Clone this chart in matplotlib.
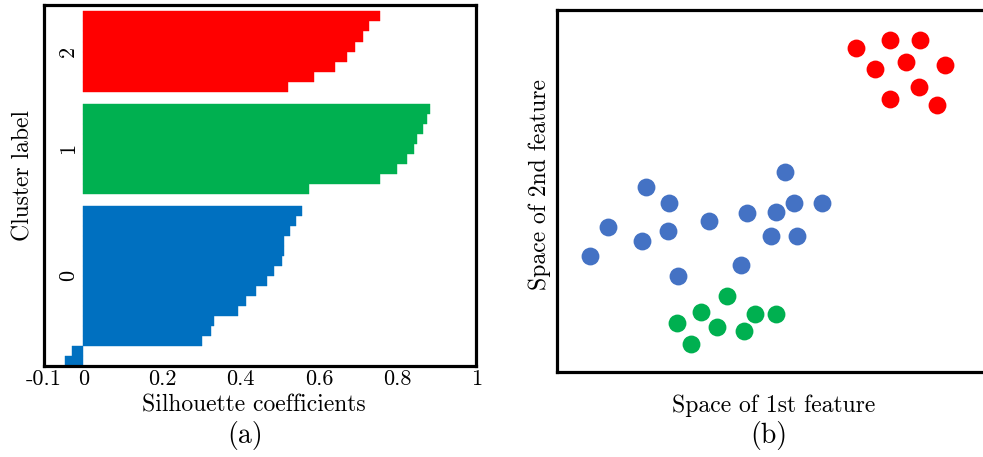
import numpy as np
import matplotlib.pyplot as plt

plt.rcParams['font.family'] = ['cmr10', 'DejaVu Serif']
plt.rcParams['axes.formatter.use_mathtext'] = True

# silhouette values per cluster
sil_cluster0 = [0.556, 0.541, 0.527, 0.511, 0.511, 0.505, 0.486, 0.467,
                0.439, 0.415, 0.394, 0.333, 0.324, 0.301, -0.029, -0.047]
sil_cluster1 = [0.882, 0.874, 0.864, 0.848, 0.841, 0.824, 0.799, 0.755, 0.574]
sil_cluster2 = [0.755, 0.727, 0.712, 0.691, 0.671, 0.640, 0.587, 0.521]
cluster_names = ['0', '1', '2']
bar_colors = ['#0070C0', '#00B050', '#FF0000']

xtick_vals = [-0.1, 0, 0.2, 0.4, 0.6, 0.8, 1]
xtick_text = ['-0.1', '0', '0.2', '0.4', '0.6', '0.8', '1']

# 2-D samples in feature space
red_x = [6.91, 7.68, 8.39, 7.34, 8.05, 8.96, 8.36, 7.70, 8.77]
red_y = [8.94, 9.17, 9.17, 8.37, 8.57, 8.47, 7.86, 7.55, 7.37]
blue_x = [5.26, 2.06, 2.59, 5.47, 6.12, 4.40, 5.05, 3.50,
          1.19, 2.56, 1.96, 4.95, 5.54, 0.76, 4.26, 2.79]
blue_y = [5.53, 5.11, 4.68, 4.68, 4.68, 4.38, 4.42, 4.18,
          4.01, 3.90, 3.61, 3.76, 3.76, 3.20, 2.96, 2.66]
green_x = [2.78, 3.33, 3.92, 3.70, 4.58, 5.05, 4.33, 3.10]
green_y = [1.35, 1.66, 2.09, 1.25, 1.61, 1.60, 1.12, 0.78]

label_fs = 17
tick_fs = 16
panel_fs = 20

fig = plt.figure(figsize=(9.83, 4.57), dpi=100)
ax1 = fig.add_axes([0.0448, 0.1998, 0.4398, 0.7882])
ax2 = fig.add_axes([0.5666, 0.186, 0.4405, 0.7921])

# (a) silhouette plot
gap = 1.2
y_lower = 0.0
for vals, name, col in zip([sil_cluster0, sil_cluster1, sil_cluster2],
                           cluster_names, bar_colors):
    vals = np.sort(np.array(vals))
    ys = y_lower + np.arange(len(vals)) + 0.5
    ax1.barh(ys, vals, height=1.0, color=col, edgecolor=col, linewidth=0.3)
    pos = ys[vals >= 0]
    ax1.text(-0.039, pos.mean(), name, rotation=90, ha='center', va='center',
             fontsize=tick_fs)
    y_lower += len(vals) + gap

ax1.set_xlim(-0.1, 1)
ax1.set_ylim(0, 36)
ax1.set_xticks(xtick_vals)
ax1.set_xticklabels(xtick_text, fontsize=tick_fs)
ax1.set_yticks([])
ax1.tick_params(axis='x', length=0, pad=3)
ax1.set_xlabel('Silhouette coefficients', fontsize=label_fs)
ax1.xaxis.set_label_coords(0.486, -0.109)
ax1.xaxis.label.set_va('center')
ax1.set_ylabel('Cluster label', fontsize=label_fs)
ax1.yaxis.set_label_coords(-0.0486, 0.528)
ax1.yaxis.label.set_ha('center')
ax1.yaxis.label.set_va('center')

# (b) samples in feature space
dot_size = 165
ax2.scatter(red_x, red_y, s=dot_size, color='#FF0000', linewidths=0)
ax2.scatter(blue_x, blue_y, s=dot_size, color='#4472C4', linewidths=0)
ax2.scatter(green_x, green_y, s=dot_size, color='#00B050', linewidths=0)
ax2.set_xlim(0, 10)
ax2.set_ylim(0, 10)
ax2.set_xticks([])
ax2.set_yticks([])
ax2.set_xlabel('Space of 1st feature', fontsize=label_fs)
ax2.xaxis.set_label_coords(0.501, -0.093)
ax2.xaxis.label.set_va('center')
ax2.set_ylabel('Space of 2nd feature', fontsize=label_fs)
ax2.yaxis.set_label_coords(-0.039, 0.519)
ax2.yaxis.label.set_ha('center')
ax2.yaxis.label.set_va('center')

for ax in (ax1, ax2):
    for sp in ax.spines.values():
        sp.set_linewidth(2.3)

fig.text(245 / 983, 1 - 435 / 457, '(a)', ha='center', va='center', fontsize=panel_fs)
fig.text(769 / 983, 1 - 436 / 457, '(b)', ha='center', va='center', fontsize=panel_fs)

fig.savefig('out.png', dpi=100)
